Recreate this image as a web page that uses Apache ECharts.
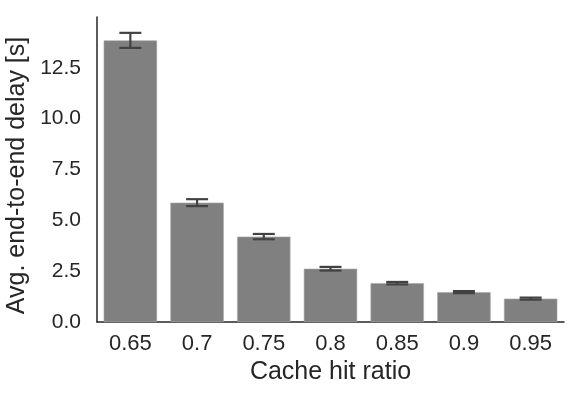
<!DOCTYPE html>
<html>
<head>
<meta charset="utf-8">
<script src="https://cdn.jsdelivr.net/npm/echarts@6/dist/echarts.min.js"></script>
<style>
  html, body { margin: 0; padding: 0; background: #fff; }
  #chart { width: 582px; height: 395px; }
</style>
</head>
<body>
<div id="chart"></div>
<script>
// data
const categories = ['0.65', '0.7', '0.75', '0.8', '0.85', '0.9', '0.95'];
const delays = [13.85, 5.87, 4.2, 2.62, 1.91, 1.47, 1.15];
const errors = [0.37, 0.17, 0.13, 0.09, 0.06, 0.05, 0.05];

const chart = echarts.init(document.getElementById('chart'));

const errData = delays.map((d, i) => [i, d - errors[i], d + errors[i]]);

const font = 'Liberation Sans, Arial, sans-serif';

chart.setOption({
  animation: false,
  grid: { left: 97, right: 18, top: 17, bottom: 73, outerBoundsMode: 'none', containLabel: false },
  xAxis: {
    type: 'category',
    data: categories,
    name: 'Cache hit ratio',
    nameLocation: 'middle',
    nameGap: 36,
    nameTextStyle: { color: '#262626', fontSize: 25, fontFamily: font },
    axisLine: { lineStyle: { color: '#262626', width: 1.5 } },
    axisTick: { show: false },
    axisLabel: { color: '#262626', fontSize: 22, fontFamily: font, margin: 11 }
  },
  yAxis: {
    type: 'value',
    min: 0,
    max: 15,
    interval: 2.5,
    name: 'Avg. end-to-end delay [s]',
    nameLocation: 'middle',
    nameGap: 57,
    nameTextStyle: { color: '#262626', fontSize: 25, fontFamily: font, padding: [0, 12, 0, 0] },
    axisLine: { show: true, lineStyle: { color: '#262626', width: 1.5 } },
    axisTick: { show: false },
    splitLine: { show: false },
    axisLabel: {
      color: '#262626', fontSize: 21, fontFamily: font, margin: 16,
      formatter: v => (v > 12.5 ? '' : v.toFixed(1))
    }
  },
  series: [
    {
      type: 'bar',
      data: delays,
      barCategoryGap: '20%',
      itemStyle: { color: '#808080', borderColor: '#a8a8a8', borderWidth: 0.6 }
    },
    {
      type: 'custom',
      data: errData,
      z: 10,
      renderItem: (params, api) => {
        const idx = api.value(0);
        const lo = api.coord([idx, api.value(1)]);
        const hi = api.coord([idx, api.value(2)]);
        const hw = 11;
        const style = { stroke: '#424242', lineWidth: 2.2 };
        return {
          type: 'group',
          children: [
            { type: 'line', shape: { x1: lo[0], y1: lo[1], x2: hi[0], y2: hi[1] }, style },
            { type: 'line', shape: { x1: lo[0] - hw, y1: lo[1], x2: lo[0] + hw, y2: lo[1] }, style },
            { type: 'line', shape: { x1: hi[0] - hw, y1: hi[1], x2: hi[0] + hw, y2: hi[1] }, style }
          ]
        };
      }
    }
  ]
});
</script>
</body>
</html>
